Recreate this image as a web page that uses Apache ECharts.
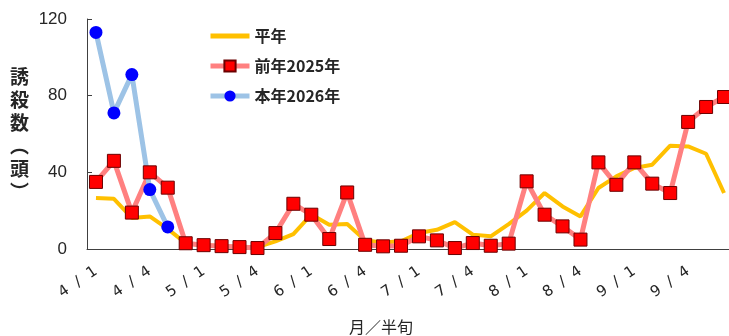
<!DOCTYPE html>
<html><head><meta charset="utf-8">
<script src="https://cdn.jsdelivr.net/npm/echarts@6/dist/echarts.min.js"></script>
<style>html,body{margin:0;padding:0;background:#fff}#c{width:729px;height:336px}</style>
</head><body><div id="c"></div>
<script>
const months = [4,5,6,7,8,9];
const categories = [];
months.forEach(m => { for (let h = 1; h <= 6; h++) categories.push(m + '  /  ' + h); });
const normal = [26.6,26.2,16.2,17,10.5,3, 2,1.5,1,1,4,7.8, 18,12.7,13,4.5,3.4,4, 8.3,10,14,7.5,6.6,13, 20,29.2,22.2,17,31.8,37.9, 42.3,44,53.9,53.5,49.7,29.2];
const prev2025 = [35,46,19,40,32,3, 2,1.5,1,0.5,8.3,23.6, 17.9,5.2,29.5,2.2,1.4,1.7, 6.6,4.5,0.5,3.1,1.7,2.8, 35.3,17.9,11.8,4.9,45.2,33.5, 45.2,34.1,29.2,66.3,74.1,79.3];
const cur2026 = [113,71,91,31,11.5, null,null,null,null,null,null,null, null,null,null,null,null,null, null,null,null,null,null,null, null,null,null,null,null,null, null,null,null,null,null,null];
const yTicks = [0,40,80,120];

const chart = echarts.init(document.getElementById('c'));
chart.setOption({
  animation: false,
  textStyle: { fontFamily: 'Noto Sans CJK JP' },
  grid: { left: 87, right: -4, top: 19, bottom: 87, containLabel: false, outerBoundsMode: 'none' },
  legend: {
    orient: 'vertical', left: 203, top: 23, itemWidth: 39, itemHeight: 14, itemGap: 14,
    textStyle: { fontSize: 16, fontWeight: 'bold', color: '#262626', fontFamily: 'Noto Sans CJK JP' },
    data: [
      { name: '平年', itemStyle: { color: 'rgba(0,0,0,0)', borderWidth: 0 }, lineStyle: { width: 5 } },
      { name: '前年2025年', lineStyle: { width: 5 } },
      { name: '本年2026年', lineStyle: { width: 5 } }
    ]
  },
  xAxis: {
    type: 'category', data: categories, boundaryGap: true,
    name: '月／半旬', nameLocation: 'middle', nameGap: 70,
    nameTextStyle: { fontSize: 16, color: '#262626', padding: [0, 58, 0, 0] },
    axisLine: { lineStyle: { color: '#404040', width: 1 } },
    axisTick: { inside: true, length: 5, interval: 0, lineStyle: { color: '#404040' } },
    axisLabel: { interval: 2, rotate: 34, margin: 21, fontSize: 15, color: '#262626', fontFamily: 'DejaVu Sans' }
  },
  yAxis: {
    type: 'value', min: yTicks[0], max: yTicks[yTicks.length-1], interval: 40,
    name: '誘\n殺\n数\n︵\n頭\n︶', nameLocation: 'middle', nameRotate: 0, nameGap: 58,
    nameTextStyle: { fontSize: 19, fontWeight: 'bold', lineHeight: 23, color: '#262626' },
    axisLine: { show: true, lineStyle: { color: '#404040', width: 1 } },
    axisTick: { show: true, inside: true, length: 5, lineStyle: { color: '#404040' } },
    splitLine: { show: false },
    axisLabel: { margin: 20, fontSize: 17, color: '#262626', fontFamily: 'Liberation Sans' }
  },
  series: [
    { name: '平年', type: 'line', data: normal, symbol: 'none',
      lineStyle: { color: '#FFC000', width: 4 }, itemStyle: { color: '#FFC000' } },
    { name: '前年2025年', type: 'line', data: prev2025, symbol: 'rect', symbolSize: 13, showAllSymbol: true,
      lineStyle: { color: '#FF8080', width: 5 },
      itemStyle: { color: '#FF0000', borderColor: '#6b0000', borderWidth: 1 } },
    { name: '本年2026年', type: 'line', data: cur2026, symbol: 'circle', symbolSize: 13, showAllSymbol: true, connectNulls: false,
      lineStyle: { color: '#9DC3E6', width: 5 },
      itemStyle: { color: '#0000FF', borderWidth: 0 } }
  ]
});
</script></body></html>
